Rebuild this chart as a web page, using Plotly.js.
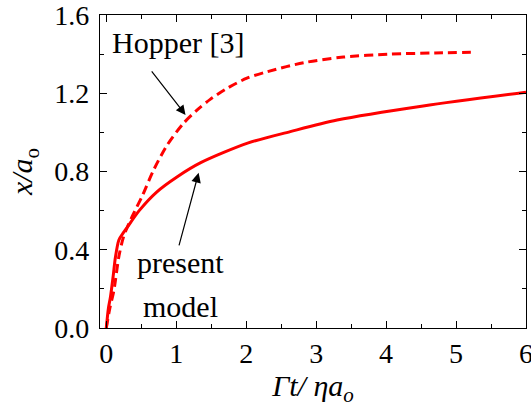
<!DOCTYPE html>
<html>
<head>
<meta charset="utf-8">
<script src="https://cdn.plot.ly/plotly-3.0.1.min.js"></script>
<style>
html,body{margin:0;padding:0;background:#fff;}
#chart{width:531px;height:410px;}
</style>
</head>
<body>
<div id="chart"></div>
<script>
// Present model (solid)
const presentX = [0, 0.03, 0.06, 0.1, 0.13, 0.18, 0.25, 0.3, 0.47, 0.72, 1.01, 1.35, 2.03, 2.63, 3.3, 4.53, 6.0];
const presentY = [0, 0.1, 0.16, 0.27, 0.36, 0.45, 0.49, 0.515, 0.60, 0.695, 0.772, 0.845, 0.946, 1.004, 1.063, 1.135, 1.205];
// Hopper [3] (dashed)
const hopperX = [0, 0.05, 0.11, 0.18, 0.25, 0.37, 0.51, 0.68, 0.87, 1.1, 1.3, 1.49, 1.73, 2.01, 2.3, 2.82, 3.39, 4.06, 4.7, 5.28];
const hopperY = [0, 0.10, 0.195, 0.366, 0.47, 0.57, 0.672, 0.81, 0.935, 1.045, 1.115, 1.17, 1.226, 1.277, 1.31, 1.356, 1.385, 1.40, 1.406, 1.41];

const xTicks = [0, 1, 2, 3, 4, 5, 6];
const yTicks = [0.0, 0.4, 0.8, 1.2, 1.6];
const yTickText = ['0.0', '0.4', '0.8', '1.2', '1.6'];

const serif = 'Liberation Serif, Times New Roman, serif';

const traces = [
  {x: hopperX, y: hopperY, type: 'scatter', mode: 'lines', line: {color: '#ff0000', width: 3, dash: '9px,5px', shape: 'spline', smoothing: 0.8}, name: 'Hopper [3]'},
  {x: presentX, y: presentY, type: 'scatter', mode: 'lines', line: {color: '#ff0000', width: 3, shape: 'spline', smoothing: 0.8}, name: 'present model'}
];

const axisCommon = {
  showline: true, linecolor: '#000', linewidth: 1.2, mirror: 'allticks',
  ticks: 'inside', ticklen: 7, tickwidth: 1, tickcolor: '#000',
  showgrid: false, zeroline: false, ticklabeloverflow: 'allow',
  tickfont: {family: serif, size: 28, color: '#000'}
};

const layout = {
  width: 531, height: 410,
  margin: {l: 100, r: 5, t: 15, b: 82},
  paper_bgcolor: '#fff', plot_bgcolor: '#fff',
  showlegend: false,
  font: {family: serif, color: '#000'},
  xaxis: Object.assign({}, axisCommon, {
    range: [-0.09, 6], tickvals: xTicks, ticktext: xTicks.map(String),
    minor: {dtick: 0.5, tick0: 0, ticks: 'inside', ticklen: 4, tickwidth: 1, tickcolor: '#000'},
    ticklabelstandoff: 0,
    title: {text: '<i>Γt/ ηa<sub>o</sub></i>', font: {family: serif, size: 30, color: '#000'}, standoff: 4}
  }),
  yaxis: Object.assign({}, axisCommon, {
    range: [0, 1.6], tickvals: yTicks, ticktext: yTickText,
    minor: {dtick: 0.2, tick0: 0, ticks: 'inside', ticklen: 4, tickwidth: 1, tickcolor: '#000'},
    ticklabelstandoff: 4,
    title: {text: '<i>x/a</i><sub>o</sub>', font: {family: serif, size: 30, color: '#000'}, standoff: 12}
  }),
  annotations: [
    {x: 1.02, y: 1.457, xref: 'x', yref: 'y', text: 'Hopper [3]', showarrow: false, font: {family: serif, size: 30, color: '#000'}},
    {x: 1.06, y: 0.334, xref: 'x', yref: 'y', text: 'present', showarrow: false, font: {family: serif, size: 30, color: '#000'}},
    {x: 1.06, y: 0.109, xref: 'x', yref: 'y', text: 'model', showarrow: false, font: {family: serif, size: 30, color: '#000'}},
    {x: 1.133, y: 1.089, xref: 'x', yref: 'y', ax: -35, ay: -45, text: '', showarrow: true, arrowhead: 2, arrowsize: 1.6, arrowwidth: 1.2, arrowcolor: '#000'},
    {x: 1.32, y: 0.793, xref: 'x', yref: 'y', ax: -20, ay: 74, text: '', showarrow: true, arrowhead: 2, arrowsize: 1.6, arrowwidth: 1.2, arrowcolor: '#000'}
  ]
};

Plotly.newPlot('chart', traces, layout, {displayModeBar: false, staticPlot: true});
</script>
</body>
</html>
